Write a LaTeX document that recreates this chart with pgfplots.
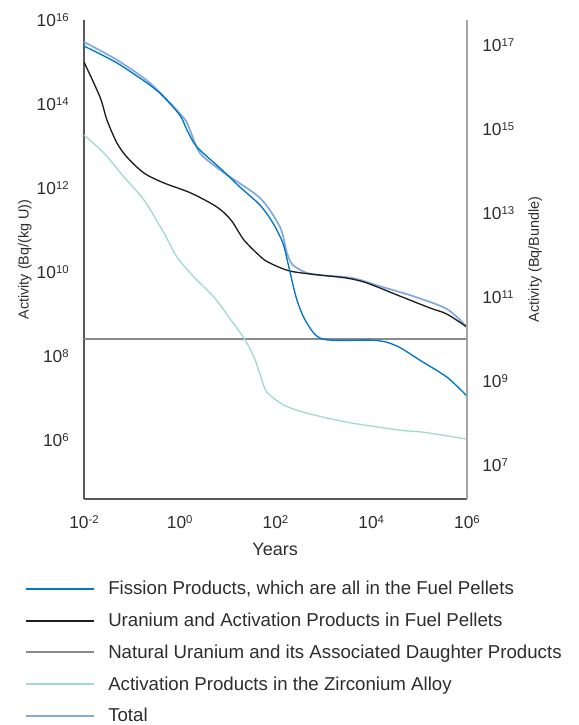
\documentclass[border=0pt]{standalone}
\usepackage{pgfplots}
\pgfplotsset{compat=1.18}
\usepackage{fontspec}
\setmainfont{Liberation Sans}
\definecolor{fiss}{RGB}{0,118,200}
\definecolor{tot}{RGB}{130,170,225}
\definecolor{zr}{RGB}{160,220,205}
\definecolor{natu}{RGB}{138,138,140}
\definecolor{ura}{RGB}{30,30,30}
\definecolor{txt}{RGB}{45,45,45}
\newcommand{\tp}[1]{10\raisebox{4pt}{\fontsize{8.5}{8.5}\selectfont #1}}
\begin{document}
\begin{tikzpicture}
\begin{axis}[
  scale only axis, width=287.25pt, height=359.25pt,
  xmode=log, ymode=log,
  xmin=1e-2, xmax=1e6, ymin=3.98e4, ymax=1e16,
  axis x line*=bottom, axis y line*=left,
  axis line style={draw=black!65, line width=0.8pt, -},
  major tick length=0pt, minor tick length=0pt,
  xtick={1e-2,1,1e2,1e4,1e6},
  xticklabels={\tp{-2},\tp{0},\tp{2},\tp{4},\tp{6}},
  ytick={1e6,1e8,1e10,1e12,1e14,1e16},
  yticklabels={\tp{6},\tp{8},\tp{10},\tp{12},\tp{14},\tp{16}},
  minor xtick={}, minor ytick={},
  ticklabel style={font=\fontsize{13}{15}\selectfont, text=txt},
  xticklabel style={yshift=-9pt},
  yticklabel style={xshift=-8pt},
  xlabel={Years},
  ylabel={Activity (Bq/(kg U))},
  xlabel style={at={(rel axis cs:0.499,-0.106)}, anchor=center, font=\fontsize{13.5}{15}\selectfont, text=txt},
  ylabel style={at={(rel axis cs:-0.154,0.5)}, anchor=center, rotate=0, font=\fontsize{10.8}{12}\selectfont, text=txt},
  legend cell align=left,
  legend style={at={(rel axis cs:-0.154,-0.1747)}, anchor=north west, draw=none, fill=none,
    inner sep=0pt, row sep=11.8pt, column sep=9.75pt, font=\fontsize{14}{16}\selectfont\color{txt},
    nodes={inner sep=0pt, text height=9pt, text depth=3pt}},
  legend image code/.code={\draw[#1, line width=1.5pt] (0pt,1.5pt) -- (51pt,1.5pt);},
]
\addplot[natu, line width=1.4pt, forget plot] coordinates {(1e-2,2.54e8) (1e6,2.54e8)};
\addplot[zr, line width=1.0pt, smooth, forget plot] coordinates {
(0.01,1.83e13) (0.0262,6.8e12) (0.0686,1.83e12) (0.179,5.2e11) (0.469,8.5e10)
(0.877,2.28e10) (1.99,7.6e9) (5.19,2.54e9) (11.8,7.2e8) (22.0,2.68e8)
(35.6,9.5e7) (49.8,3.16e7) (66.4,1.39e7) (151,6.8e6) (455,4.4e6)
(3110,2.68e6) (3.99e4,1.73e6) (1.21e5,1.55e6) (1e6,1.06e6)};
\addplot[tot, line width=1.3pt, smooth, forget plot] coordinates {
(0.01,3.0e15) (0.0489,1.12e15) (0.239,3.16e14) (1.17,4.9e13) (1.64,2.4e13)
(2.65,6.8e12) (8.0,2.4e12) (47.4,5.8e11) (124,1.18e11) (174,2.83e10)
(232,1.47e10) (455,9.5e9) (849,8.5e9) (4160,7.2e9)
(1.52e4,4.6e9) (7.45e4,2.68e9) (3.82e5,1.32e9) (1e6,4.9e8)};
\addplot[ura, line width=1.0pt, smooth, forget plot] coordinates {
(0.01,1e15) (0.0216,1.47e14) (0.0302,4.16e13) (0.0489,1.18e13) (0.079,5.47e12)
(0.179,2.28e12) (0.469,1.32e12) (1.72,7.6e11) (6.0,3.53e11) (11.8,1.73e11)
(22.0,5.8e10) (49.8,2.28e10) (76.7,1.64e10) (201,1.06e10) (849,8.5e9)
(3110,7.2e9) (8150,5.5e9) (3.99e4,2.68e9) (1.69e5,1.40e9) (3.82e5,1.0e9) (1e6,4.9e8)};
\addplot[fiss, line width=1.0pt, smooth, forget plot] coordinates {
(0.01,2.4e15) (0.0489,9.5e14) (0.239,2.83e14) (0.386,1.83e14) (1.0,5.47e13)
(1.42,2.4e13) (2.29,9.5e12) (6.93,3.0e12) (18.1,1.06e12) (47.4,3.94e11)
(88.7,1.47e11) (143,4.9e10) (182,1.64e10) (281,2.15e9) (455,6.1e8)
(982,2.54e8) (9400,2.4e8) (1.93e4,2.2e8) (3.99e4,1.6e8) (1.04e5,8.0e7) (3.82e5,3.16e7) (1e6,1.12e7)};
\addlegendimage{fiss}
\addlegendentry{Fission Products, which are all in the Fuel Pellets}
\addlegendimage{ura}
\addlegendentry{Uranium and Activation Products in Fuel Pellets}
\addlegendimage{natu}
\addlegendentry{Natural Uranium and its Associated Daughter Products}
\addlegendimage{zr}
\addlegendentry{Activation Products in the Zirconium Alloy}
\addlegendimage{tot}
\addlegendentry{Total}
\coordinate (bb1) at (rel axis cs:-0.2193,-0.4718);
\coordinate (bb2) at (rel axis cs:1.2924,1.0418);
\end{axis}
\begin{axis}[
  scale only axis, width=287.25pt, height=359.25pt,
  xmode=log, ymode=log,
  xmin=1e-2, xmax=1e6, ymin=1.585e6, ymax=3.98e17,
  axis x line=none, axis y line*=right,
  axis line style={draw=black!35, line width=0.9pt, -},
  major tick length=0pt, minor tick length=0pt,
  ytick={1e7,1e9,1e11,1e13,1e15,1e17},
  yticklabels={\tp{7},\tp{9},\tp{11},\tp{13},\tp{15},\tp{17}},
  minor ytick={},
  ticklabel style={font=\fontsize{13}{15}\selectfont, text=txt},
  yticklabel style={xshift=8pt},
  ylabel={Activity (Bq/Bundle)},
  ylabel style={at={(rel axis cs:1.178,0.5)}, anchor=center, rotate=0, font=\fontsize{10.8}{12}\selectfont, text=txt},
]
\addplot[draw=none] coordinates {(1,1e10)};
\end{axis}
\pgfresetboundingbox
\path[use as bounding box] (bb1) rectangle (bb2);
\end{tikzpicture}
\end{document}
